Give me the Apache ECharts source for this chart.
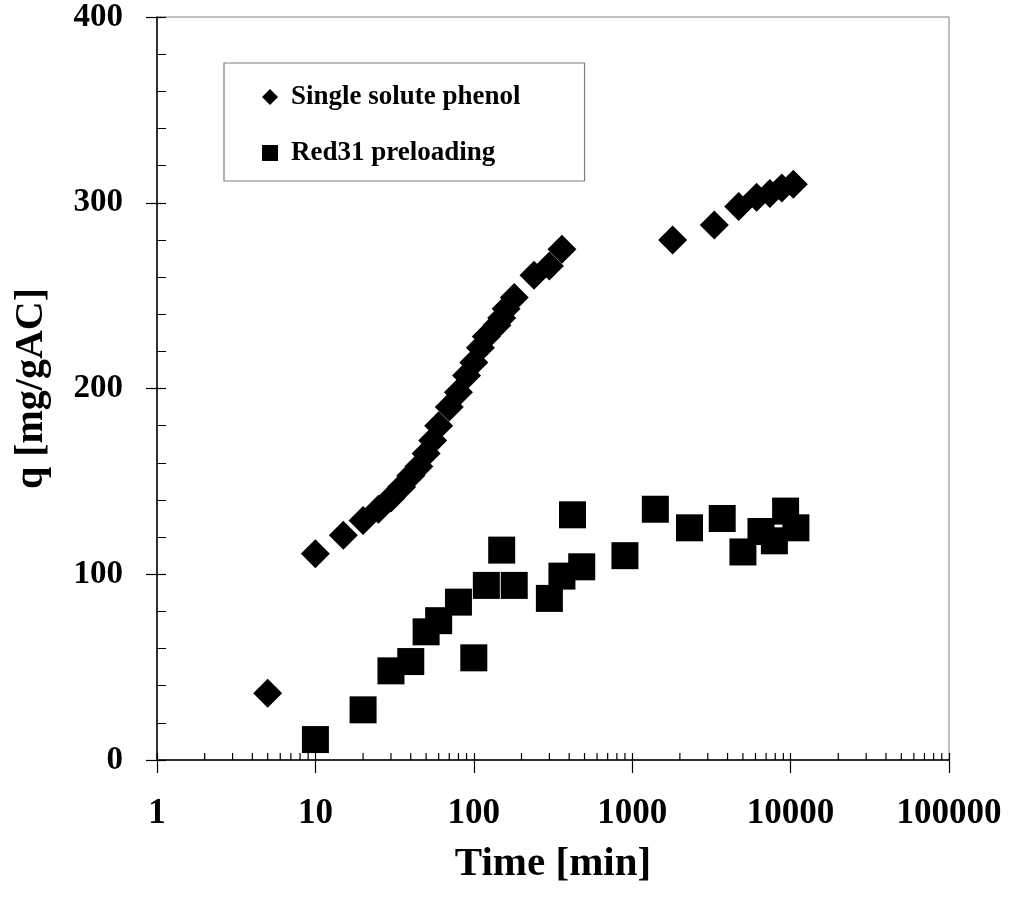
<!DOCTYPE html>
<html>
<head>
<meta charset="utf-8">
<title>Phenol adsorption kinetics</title>
<script src="https://cdn.jsdelivr.net/npm/echarts@6/dist/echarts.min.js"></script>
<style>
  html, body { margin: 0; padding: 0; background: #ffffff; }
  #chart { width: 1010px; height: 905px; }
</style>
</head>
<body>
<div id="chart"></div>
<script>
// Adsorbed amount q [mg/gAC] against contact time [min]
const phenolTime = [5, 10, 15, 20, 25, 30, 35, 40, 45, 50, 55, 60, 70, 80, 90, 100, 110, 120, 140, 150, 160, 180, 240, 300, 360, 1800, 3300, 4700, 6100, 7400, 8800, 10400];
const phenolQ    = [36, 111, 121, 129, 135, 141, 147, 153, 158, 165, 172, 180, 190, 198, 207, 214, 222, 228, 234, 238, 243, 249, 261, 266, 275, 280, 288, 298, 303, 305, 308, 310];

const red31Time = [10, 20, 30, 40, 50, 60, 80, 100, 120, 150, 180, 300, 360, 420, 480, 900, 1400, 2300, 3700, 5000, 6500, 7900, 9300, 10800];
const red31Q    = [11, 27, 48, 53, 69, 75, 85, 55, 94, 113, 94, 87, 99, 132, 104, 110, 135, 125, 130, 112, 123, 118, 134, 125];

const seriesNames = ['Single solute phenol', 'Red31 preloading'];
const timeTickValues = [1, 10, 100, 1000, 10000, 100000];
const qTickValues = [0, 100, 200, 300, 400];

const FONT = '"Liberation Serif", "Times New Roman", Times, serif';
const GRID = { left: 157, top: 17, right: 61, bottom: 145 };

const pairs = (xs, ys) => xs.map((x, i) => [x, ys[i]]);

// log-axis minor ticks at 2..9 within each decade
const minorTimeTicks = [];
for (let d = 0; d < timeTickValues.length - 1; d++) {
  for (let m = 2; m <= 9; m++) minorTimeTicks.push([m * timeTickValues[d], qTickValues[0]]);
}

const boldText = (size) => ({ fontFamily: FONT, fontWeight: 'bold', fontSize: size, color: '#000' });
const solidBlack = { color: '#000', opacity: 1 };

const chart = echarts.init(document.getElementById('chart'), null, { renderer: 'canvas' });

chart.setOption({
  backgroundColor: '#ffffff',
  animation: false,
  grid: [
    Object.assign({ show: true, borderColor: '#808080', borderWidth: 1, backgroundColor: 'transparent' }, GRID),
    Object.assign({ show: false }, GRID)
  ],
  legend: {
    orient: 'vertical',
    left: 224,
    top: 63,
    data: [
      { name: seriesNames[0], icon: 'diamond' },
      { name: seriesNames[1], icon: 'rect' }
    ],
    itemWidth: 16,
    itemHeight: 16,
    itemGap: 28,
    padding: [20, 64, 14, 38],
    borderColor: '#7f7f7f',
    borderWidth: 1.2,
    backgroundColor: '#ffffff',
    selectedMode: false,
    itemStyle: solidBlack,
    textStyle: Object.assign(boldText(27), { padding: [0, 0, 0, 8], lineHeight: 28 })
  },
  xAxis: [
    {
      gridIndex: 0,
      type: 'log',
      logBase: 10,
      min: timeTickValues[0],
      max: timeTickValues[timeTickValues.length - 1],
      splitNumber: 5,
      axisLine: { show: true, lineStyle: { color: '#000', width: 1.5 } },
      axisTick: { show: true, inside: true, length: 7, lineStyle: { color: '#000', width: 1.2 } },
      axisLabel: Object.assign(boldText(35), {
        margin: 36,
        formatter: (v) => String(Math.round(v))
      }),
      splitLine: { show: false },
      name: 'Time [min]',
      nameLocation: 'middle',
      nameGap: 84,
      nameTextStyle: boldText(41)
    },
    {
      gridIndex: 1,
      type: 'log',
      logBase: 10,
      min: timeTickValues[0],
      max: timeTickValues[timeTickValues.length - 1],
      splitNumber: 5,
      axisLine: { show: false },
      axisTick: { show: true, inside: false, length: 13, lineStyle: { color: '#000', width: 1.2 } },
      axisLabel: { show: false },
      splitLine: { show: false }
    }
  ],
  yAxis: [
    {
      gridIndex: 0,
      type: 'value',
      min: qTickValues[0],
      max: qTickValues[qTickValues.length - 1],
      interval: qTickValues[1] - qTickValues[0],
      axisLine: { show: true, lineStyle: { color: '#000', width: 1.5 } },
      axisTick: { show: true, inside: true, length: 9, lineStyle: { color: '#000', width: 1.2 } },
      minorTick: { show: true, splitNumber: 5, length: 9, lineStyle: { color: '#000', width: 1 } },
      axisLabel: Object.assign(boldText(33), { margin: 34 }),
      splitLine: { show: false },
      name: 'q [mg/gAC]',
      nameLocation: 'middle',
      nameGap: 105,
      nameRotate: 90,
      nameTextStyle: boldText(40)
    },
    {
      gridIndex: 1,
      type: 'value',
      min: qTickValues[0],
      max: qTickValues[qTickValues.length - 1],
      interval: qTickValues[1] - qTickValues[0],
      axisLine: { show: false },
      axisTick: { show: true, inside: false, length: 11, lineStyle: { color: '#000', width: 1.2 } },
      axisLabel: { show: false },
      splitLine: { show: false }
    }
  ],
  series: [
    {
      name: 'minor time ticks',
      type: 'scatter',
      xAxisIndex: 0,
      yAxisIndex: 0,
      data: minorTimeTicks,
      symbol: 'rect',
      symbolSize: [1.2, 7],
      symbolOffset: [0, -3.5],
      itemStyle: solidBlack,
      silent: true,
      clip: false,
      z: 1
    },
    {
      name: seriesNames[0],
      type: 'scatter',
      xAxisIndex: 0,
      yAxisIndex: 0,
      data: pairs(phenolTime, phenolQ),
      symbol: 'diamond',
      symbolSize: 29,
      itemStyle: solidBlack,
      z: 3
    },
    {
      name: seriesNames[1],
      type: 'scatter',
      xAxisIndex: 0,
      yAxisIndex: 0,
      data: pairs(red31Time, red31Q),
      symbol: 'rect',
      symbolSize: 27,
      itemStyle: solidBlack,
      z: 3
    }
  ]
});
</script>
</body>
</html>
